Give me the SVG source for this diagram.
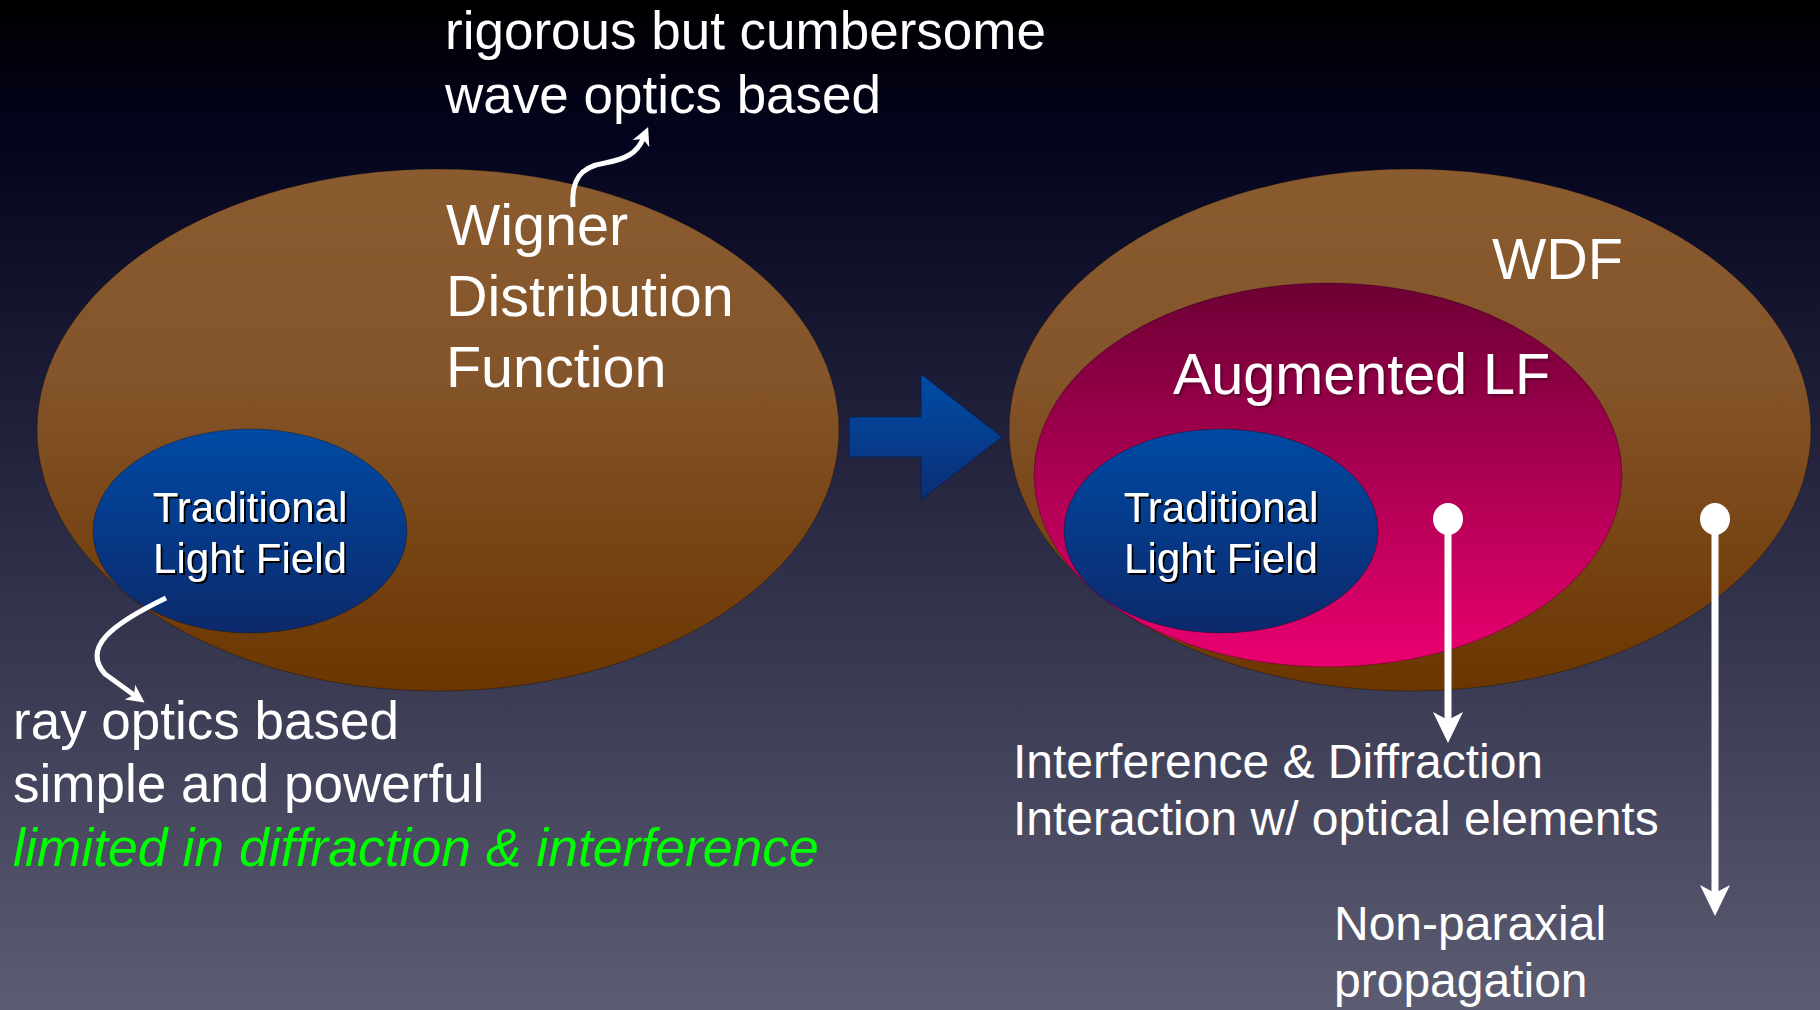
<svg xmlns="http://www.w3.org/2000/svg" width="1820" height="1010" viewBox="0 0 1820 1010">
<defs>
<linearGradient id="bg" x1="0" y1="0" x2="0" y2="1">
<stop offset="0" stop-color="#000000"/>
<stop offset="0.13" stop-color="#03031d"/>
<stop offset="0.45" stop-color="#23233e"/>
<stop offset="1" stop-color="#5c5d72"/>
</linearGradient>
<linearGradient id="brown" x1="0" y1="0" x2="0" y2="1">
<stop offset="0" stop-color="#8b5b30"/>
<stop offset="0.4" stop-color="#84542a"/>
<stop offset="1" stop-color="#6b3600"/>
</linearGradient>
<linearGradient id="pink" x1="0" y1="0" x2="0" y2="1">
<stop offset="0" stop-color="#6c0034"/>
<stop offset="1" stop-color="#ea0070"/>
</linearGradient>
<linearGradient id="blue" x1="0" y1="0" x2="0" y2="1">
<stop offset="0" stop-color="#004aa4"/>
<stop offset="1" stop-color="#0c296b"/>
</linearGradient>
<linearGradient id="arrowblue" x1="0" y1="0" x2="0" y2="1">
<stop offset="0" stop-color="#004da8"/>
<stop offset="1" stop-color="#0b2e74"/>
</linearGradient>
<filter id="shadow" x="-10%" y="-20%" width="130%" height="150%">
<feDropShadow dx="2" dy="2" stdDeviation="0.6" flood-color="#000" flood-opacity="1"/>
</filter>
<filter id="softshadow" x="-10%" y="-20%" width="130%" height="150%">
<feDropShadow dx="2" dy="2" stdDeviation="1" flood-color="#000" flood-opacity="0.35"/>
</filter>
<marker id="headBig" markerUnits="userSpaceOnUse" viewBox="0 -16 32 32" markerWidth="32" markerHeight="32" refX="8" refY="0" orient="auto">
<path d="M0,-15 L31,0 L0,15 L8,0 Z" fill="#fff"/>
</marker>
<marker id="headSmall" markerUnits="userSpaceOnUse" viewBox="0 -10 20 20" markerWidth="20" markerHeight="20" refX="5" refY="0" orient="auto">
<path d="M0,-9 L18,0 L0,9 L5,0 Z" fill="#fff"/>
</marker>
<style>
text{font-family:"Liberation Sans",Arial,Helvetica,sans-serif;fill:#fff}
.big{font-size:57.5px}
.mid{font-size:53px}
.sm{font-size:48px}
.tlf{font-size:42px;text-anchor:middle;filter:url(#shadow)}
.green{fill:#00ff00;font-style:italic;font-size:53.5px}
.ell{stroke:#000;stroke-opacity:0.3;stroke-width:1}
.conn{fill:none;stroke:#fff;stroke-linecap:butt}
</style>
</defs>
<rect x="0" y="0" width="1820" height="1010" fill="url(#bg)"/>

<g id="node-wdf-left">
<ellipse class="ell" cx="438" cy="430" rx="401" ry="261" fill="url(#brown)"/>
<text class="big" x="446" y="245">Wigner</text>
<text class="big" x="446" y="316">Distribution</text>
<text class="big" x="446" y="387">Function</text>
</g>

<g id="node-tlf-left">
<ellipse class="ell" cx="250" cy="531" rx="157" ry="102" fill="url(#blue)"/>
<text class="tlf" x="250" y="522">Traditional</text>
<text class="tlf" x="250" y="573">Light Field</text>
</g>

<g id="node-transform-arrow">
<polygon points="849,417 921,417 921,374 1002,437 921,500 921,457 849,457" fill="url(#arrowblue)" stroke="#08204f" stroke-width="1"/>
</g>

<g id="node-wdf-right">
<ellipse class="ell" cx="1410" cy="430" rx="401" ry="261" fill="url(#brown)"/>
<text class="big" x="1492" y="279">WDF</text>
</g>

<g id="node-augmented-lf">
<ellipse class="ell" cx="1328" cy="475" rx="294" ry="192" fill="url(#pink)"/>
<text class="big" x="1173" y="394" filter="url(#softshadow)">Augmented LF</text>
</g>

<g id="node-tlf-right">
<ellipse class="ell" cx="1221" cy="531" rx="157" ry="102" fill="url(#blue)"/>
<text class="tlf" x="1221" y="522">Traditional</text>
<text class="tlf" x="1221" y="573">Light Field</text>
</g>

<g id="node-wave-label">
<text class="mid" x="445" y="49">rigorous but cumbersome</text>
<text class="mid" x="445" y="113">wave optics based</text>
</g>

<g id="node-ray-label">
<text class="mid" x="13" y="739">ray optics based</text>
<text class="mid" x="13" y="802">simple and powerful</text>
<text class="mid green" x="13" y="866">limited in diffraction &amp; interference</text>
</g>

<g id="node-interference-label">
<text class="sm" x="1013" y="778">Interference &amp; Diffraction</text>
<text class="sm" x="1013" y="835">Interaction w/ optical elements</text>
</g>

<g id="node-nonparaxial-label">
<text class="sm" x="1334" y="940">Non-paraxial</text>
<text class="sm" x="1334" y="997">propagation</text>
</g>

<g id="connectors">
<path class="conn" stroke-width="5" d="M573,207 C571,180 580,167 605,163 C626,159 637,153 643,139" marker-end="url(#headSmall)"/>
<path class="conn" stroke-width="5" d="M166,598 C110,625 82,648 105,674 L134,695" marker-end="url(#headSmall)"/>
<line class="conn" stroke-width="7" x1="1448" y1="522" x2="1448" y2="720" marker-end="url(#headBig)"/>
<ellipse cx="1448" cy="519" rx="15" ry="16" fill="#fff"/>
<line class="conn" stroke-width="7" x1="1715" y1="522" x2="1715" y2="893" marker-end="url(#headBig)"/>
<ellipse cx="1715" cy="519" rx="15" ry="16" fill="#fff"/>
</g>
</svg>
